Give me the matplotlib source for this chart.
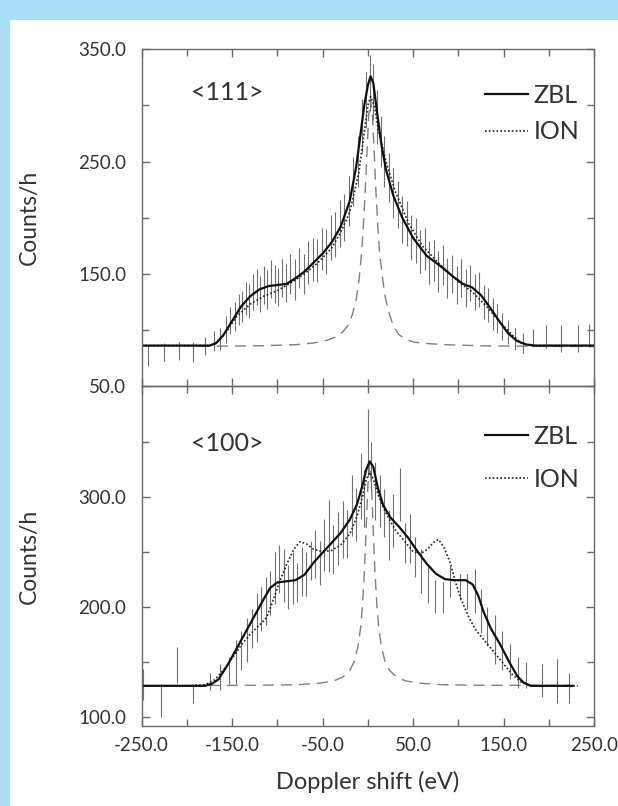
import matplotlib
matplotlib.use('Agg')
import matplotlib.pyplot as plt
import numpy as np
from matplotlib.patches import Rectangle
from matplotlib.ticker import FixedLocator, FuncFormatter

plt.rcParams['font.family'] = ['Lato', 'DejaVu Sans']

# ---- <111> panel ----
zbl_x_111 = [-250, -175, -168, -160, -150, -140, -130, -120, -110, -100, -90, -80, -70, -60, -50,
             -40, -30, -20, -13, -8, -4, 0, 3, 6, 10, 15, 20, 28, 38, 50, 65, 80, 95, 105, 115,
             125, 135, 145, 155, 165, 175, 185, 250]
zbl_y_111 = [86, 86, 88, 95, 108, 121, 130, 136, 139, 140, 141, 146, 152, 160, 168,
             178, 192, 215, 245, 275, 300, 318, 326, 320, 295, 265, 243, 220, 200, 182, 166, 157, 147, 141, 138,
             131, 120, 108, 97, 90, 87, 86, 86]

ion_x_111 = [-250, -175, -165, -155, -145, -130, -115, -100, -85, -70, -55, -40, -30, -20, -10,
             -5, 0, 3, 7, 12, 20, 30, 45, 60, 80, 100, 115, 130, 145, 160, 170, 180, 250]
ion_y_111 = [86, 86, 90, 100, 112, 123, 130, 135, 142, 150, 160, 173, 187, 205, 240,
             270, 300, 308, 300, 277, 250, 224, 195, 175, 158, 143, 134, 122, 108, 95, 88, 86, 86]

peak_x_111 = [-187, -120, -80, -60, -45, -35, -28, -22, -17, -13, -10, -7, -5, -3, -1, 1, 3,
              5, 7, 9, 11, 13, 16, 19, 23, 28, 34, 41, 51, 66, 86, 126, 196, 250]
peak_y_111 = [85.3, 85.8, 86.8, 88.3, 90.8, 94, 98, 104, 114, 127, 143, 168, 192, 222, 258, 292, 305,
              292, 258, 222, 192, 168, 148, 130, 116, 104, 96, 92, 89, 87.8, 86.8, 85.8, 85.3, 85.2]

pts_x_111 = [-243, -225, -209, -193, -180, -170, -163, -157, -152, -147, -143, -139, -135, -131,
             -127, -123, -119, -115, -111, -107, -103, -99, -95, -91, -86, -81, -76, -71, -66,
             -61, -56, -51, -46, -41, -36, -31, -26, -21, -16, -11, -6, -2, 2, 6, 10, 14, 18,
             23, 28, 33, 38, 43, 48, 53, 58, 63, 68, 73, 78, 83, 88, 93, 98, 103, 108, 113,
             118, 123, 128, 133, 138, 143, 148, 155, 163, 172, 183, 197, 214, 232, 245]
pts_y_111 = [77, 80, 81, 80, 86, 90, 92, 100, 108, 112, 118, 121, 128, 126,
             134, 138, 132, 140, 136, 145, 141, 138, 146, 142, 150, 145, 155, 150, 160,
             163, 162, 172, 170, 182, 185, 195, 200, 215, 232, 250, 282, 305, 320, 312, 290, 268, 250,
             236, 222, 212, 198, 195, 182, 180, 170, 172, 160, 162, 152, 158, 146, 150, 140, 146, 137, 142,
             134, 136, 125, 122, 114, 110, 103, 98, 92, 88, 93, 94, 92, 92, 95]
pts_e_111 = [9, 8, 8, 9, 8, 9, 10, 12, 12, 13, 14, 14, 15, 15,
             16, 16, 16, 17, 17, 17, 17, 17, 17, 17, 18, 18, 18, 18, 19,
             19, 19, 19, 20, 20, 20, 21, 21, 22, 22, 23, 24, 25, 25, 25, 24, 23, 23,
             22, 22, 21, 21, 20, 20, 20, 19, 19, 19, 18, 18, 18, 18, 17, 17, 17, 17, 16,
             16, 16, 15, 15, 14, 13, 12, 11, 10, 9, 8, 10, 12, 12, 10]

# ---- <100> panel ----
zbl_x_100 = [-250, -180, -172, -165, -155, -145, -135, -125, -115, -108, -100, -90, -80, -70, -60,
             -50, -40, -30, -20, -12, -6, -2, 2, 6, 11, 17, 25, 35, 45, 55, 65, 75, 85, 95, 108,
             116, 122, 128, 136, 146, 156, 165, 172, 180, 227]
zbl_y_100 = [128, 128, 130, 134, 147, 162, 177, 192, 207, 217, 222, 223, 224, 229, 240,
             249, 258, 267, 279, 293, 310, 324, 332, 327, 308, 292, 281, 272, 262, 250, 239, 230, 225, 224, 224,
             220, 210, 195, 180, 166, 150, 137, 131, 128, 128]

ion_x_100 = [-250, -200, -180, -170, -160, -150, -140, -130, -120, -112, -105, -98, -90, -82, -75,
             -68, -60, -50, -40, -30, -20, -12, -6, -2, 2, 6, 12, 20, 30, 40, 50, 58, 66, 72, 78,
             84, 91, 97, 102, 108, 113, 120, 130, 140, 150, 160, 170, 180, 232]
ion_y_100 = [128, 128, 129, 133, 142, 153, 165, 175, 183, 190, 205, 222, 238, 252, 259,
             257, 252, 250, 251, 256, 266, 282, 300, 315, 322, 316, 300, 285, 270, 260, 250, 248, 252, 258, 261,
             254, 240, 222, 209, 197, 188, 178, 168, 158, 148, 138, 131, 128, 128]

peak_x_100 = [-176, -118, -78, -53, -38, -28, -20, -15, -11, -8, -6, -4, -2, 0, 2,
              4, 6, 8, 10, 12, 15, 19, 24, 32, 42, 57, 82, 122, 223]
peak_y_100 = [128.3, 128.5, 129, 130.4, 132.4, 135.8, 142, 150, 163.5, 181, 200.7, 229, 268, 310, 330,
              310, 268, 229, 200.7, 181, 163.5, 150, 142, 135.8, 132.4, 130.4, 129, 128.5, 128.3]

pts_x_100 = [-249, -229, -211, -193, -174, -163, -154, -146, -140, -134, -128, -123, -118, -113,
             -108, -103, -98, -93, -88, -83, -78, -73, -68, -63, -58, -53, -48, -43, -38, -33,
             -28, -23, -18, -13, -8, -4, 0, 4, 8, 13, 18, 23, 28, 35, 41, 47, 52, 59, 66, 74,
             83, 91, 102, 110, 118, 125, 132, 140, 148, 157, 166, 175, 193, 209, 222]
pts_y_100 = [129, 115, 147, 120, 132, 136, 142, 150, 160, 170, 180, 190, 198, 205,
             212, 226, 234, 228, 218, 226, 222, 232, 230, 242, 248, 240, 256, 264, 252, 262,
             270, 266, 292, 284, 310, 298, 349, 328, 305, 296, 285, 265, 278, 302, 258, 262, 245, 232, 220, 209,
             208, 223, 218, 214, 214, 196, 182, 170, 160, 150, 140, 138, 133, 132, 126]
pts_e_100 = [14, 15, 16, 8, 8, 12, 12, 20, 18, 20, 18, 22, 20, 22,
             20, 24, 22, 24, 20, 24, 18, 22, 20, 18, 22, 20, 24, 33, 22, 24,
             26, 22, 28, 24, 30, 26, 31, 22, 26, 24, 22, 23, 24, 24, 18, 22, 18, 20, 17, 15,
             14, 14, 12, 16, 20, 20, 18, 22, 18, 16, 14, 12, 15, 20, 14]

x_ticks = [-250, -200, -150, -100, -50, 0, 50, 100, 150, 200, 250]
x_labels = [-250, -150, -50, 50, 150, 250]

grey = '#6a6a6a'
txt = '#333333'

fig = plt.figure(figsize=(6.18, 8.06), dpi=100)
fig.patch.set_facecolor('#a9dff4')
fig.patches.append(Rectangle((10 / 618, 0), 1, 1 - 20 / 806, transform=fig.transFigure,
                             facecolor='white', edgecolor='none', zorder=-1))

ax1 = fig.add_axes([0.2293, 0.5211, 0.7319, 0.4177])
ax2 = fig.add_axes([0.2293, 0.0993, 0.7319, 0.4218], sharex=ax1)


def fmt(v, pos):
    return '%.1f' % v


def style_axis(ax):
    for s in ax.spines.values():
        s.set_color(grey)
        s.set_linewidth(1.0)
    ax.set_facecolor('none')
    ax.xaxis.set_major_locator(FixedLocator(x_labels))
    ax.xaxis.set_minor_locator(FixedLocator(x_ticks))
    ax.xaxis.set_major_formatter(FuncFormatter(fmt))
    ax.tick_params(which='both', direction='in', top=True, right=True, color=grey,
                   labelcolor=txt, labelsize=13.5, width=1.0)
    ax.tick_params(which='major', length=6)
    ax.tick_params(which='minor', length=5)
    ax.tick_params(axis='y', pad=11)
    ax.tick_params(axis='x', pad=8)


def draw_panel(ax, zx, zy, ix, iy, px, py, dx, dy, de, tag, tag_y, leg_y, leg_sp):
    ax.plot(px, py, color='#808080', linewidth=1.0, dashes=(8, 5))
    ax.vlines(dx, np.array(dy) - np.array(de), np.array(dy) + np.array(de),
              color='#707070', linewidth=0.8)
    ax.plot(ix, iy, color='#222222', linewidth=1.2, linestyle=(0, (1, 1.3)), label='ION')
    ax.plot(zx, zy, color='#111111', linewidth=1.6, label='ZBL')
    h, l = ax.get_legend_handles_labels()
    ax.legend(h[::-1], l[::-1], loc='upper right', bbox_to_anchor=(1.0, leg_y), frameon=False,
              fontsize=18, handlelength=1.75, handletextpad=0.2, labelspacing=leg_sp,
              borderaxespad=0.2, labelcolor=txt)
    ax.text(0.19, tag_y, tag, transform=ax.transAxes,
            fontsize=18, color=txt, ha='center', va='center')
    ax.set_ylabel('Counts/h', fontsize=16.5, color=txt)
    ax.yaxis.set_label_coords(-0.225, 0.5)


style_axis(ax1)
style_axis(ax2)

draw_panel(ax1, zbl_x_111, zbl_y_111, ion_x_111, ion_y_111, peak_x_111, peak_y_111,
           pts_x_111, pts_y_111, pts_e_111, '<111>', 0.872, 0.943, 0.55)
draw_panel(ax2, zbl_x_100, zbl_y_100, ion_x_100, ion_y_100, peak_x_100, peak_y_100,
           pts_x_100, pts_y_100, pts_e_100, '<100>', 0.832, 0.93, 0.8)

ax1.set_xlim(-250, 250)
ax1.set_ylim(50, 350)
ax1.yaxis.set_major_locator(FixedLocator([50, 150, 250, 350]))
ax1.yaxis.set_minor_locator(FixedLocator([100, 200, 300]))
ax1.yaxis.set_major_formatter(FuncFormatter(fmt))
ax1.tick_params(axis='x', labelbottom=False)

ax2.set_ylim(91.5, 400.5)
ax2.yaxis.set_major_locator(FixedLocator([100, 200, 300]))
ax2.yaxis.set_minor_locator(FixedLocator([150, 250, 350]))
ax2.yaxis.set_major_formatter(FuncFormatter(fmt))
ax2.set_xlabel('Doppler shift (eV)', fontsize=17, color=txt, labelpad=12)

plt.savefig('out.png', dpi=100, facecolor=fig.get_facecolor())
